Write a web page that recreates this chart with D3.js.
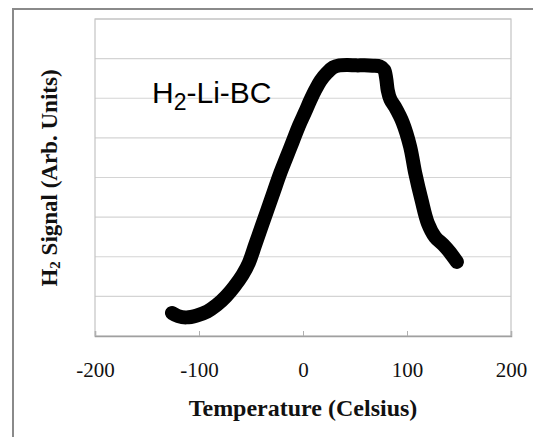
<!DOCTYPE html>
<html><head><meta charset="utf-8">
<script src="https://cdn.jsdelivr.net/npm/d3@7"></script>
<style>body{margin:0;background:#fff}svg{display:block}</style>
</head><body>
<svg id="c" width="533" height="437"></svg>
<script>
const temperature = [-126,-120,-112,-102,-92,-83,-74,-66,-58,-52,-46,-40,-34,-28,-22,-16,-10,-4,2,7,12,17,23,29,35,43,51,59,67,74,78,80,81.5,84,88.5,96,103,108,114,120,127,135,141,148];
const signal = [0.58,0.50,0.47,0.52,0.62,0.78,1.0,1.25,1.55,1.85,2.3,2.75,3.2,3.65,4.1,4.5,4.9,5.3,5.65,5.95,6.22,6.45,6.64,6.78,6.83,6.84,6.83,6.83,6.82,6.8,6.72,6.5,6.2,5.97,5.78,5.38,4.78,4.1,3.43,2.85,2.5,2.3,2.12,1.87];
const xTicks = [-200,-100,0,100,200];
const yGrid = [1,2,3,4,5,6,7,8];

const svg = d3.select("#c");
const L=95, R=511, T=19, B=336;
const x = d3.scaleLinear().domain([-200,200]).range([L,R]);
const y = d3.scaleLinear().domain([0,8]).range([B,T]);

// outer frame
svg.append("path").attr("d","M13,440 L13,9 L540,9").attr("fill","none").attr("stroke","#8a8a8a").attr("stroke-width",2);

// gridlines
svg.append("g").selectAll("line").data(yGrid).join("line")
  .attr("x1",L).attr("x2",R).attr("y1",d=>y(d)).attr("y2",d=>y(d))
  .attr("stroke","#d4d4d4").attr("stroke-width",1.2);

// plot border
svg.append("rect").attr("x",L).attr("y",T).attr("width",R-L).attr("height",B-T)
  .attr("fill","none").attr("stroke","#c4c4c4").attr("stroke-width",1.2);

// x axis
const xa = svg.append("g").attr("transform",`translate(0,${B})`)
  .call(d3.axisBottom(x).tickValues(xTicks).tickSize(-5).tickPadding(0).tickFormat(d3.format("d")));
xa.select(".domain").attr("stroke","#a0a0a0").attr("stroke-width",1.5);
xa.selectAll(".tick line").attr("stroke","#b0b0b0");
xa.selectAll(".tick text").attr("dy",null).attr("y",41)
  .attr("font-family","'Liberation Serif', serif").attr("font-size",21).attr("fill","#111").text(d=>d<0?"-"+Math.abs(d):d);

// data line
svg.append("path").datum(temperature.map((t,i)=>[t,signal[i]]))
  .attr("fill","none").attr("stroke","#000").attr("stroke-width",14)
  .attr("stroke-linejoin","round").attr("stroke-linecap","round")
  .attr("d",d3.line().x(d=>x(d[0])).y(d=>y(d[1])).curve(d3.curveCatmullRom));

// annotation
const ann = svg.append("text").attr("x",152).attr("y",103)
  .attr("font-family","'Liberation Sans', Arial, sans-serif").attr("font-size",30).attr("fill","#000");
ann.append("tspan").text("H");
ann.append("tspan").attr("font-size",23).attr("dy",7).text("2");
ann.append("tspan").attr("dy",-7).text("-Li-BC");

// axis titles
svg.append("text").attr("x",303).attr("y",416).attr("text-anchor","middle")
  .attr("font-family","'Liberation Serif', serif").attr("font-weight","bold").attr("font-size",24).attr("fill","#111")
  .text("Temperature (Celsius)");
const yt = svg.append("text").attr("transform","translate(57,178) rotate(-90)").attr("text-anchor","middle")
  .attr("font-family","'Liberation Serif', serif").attr("font-weight","bold").attr("font-size",23).attr("fill","#111");
yt.append("tspan").text("H");
yt.append("tspan").attr("font-size",15).attr("dy",3).text("2");
yt.append("tspan").attr("dy",-3).text(" Signal (Arb. Units)");
</script>
</body></html>
